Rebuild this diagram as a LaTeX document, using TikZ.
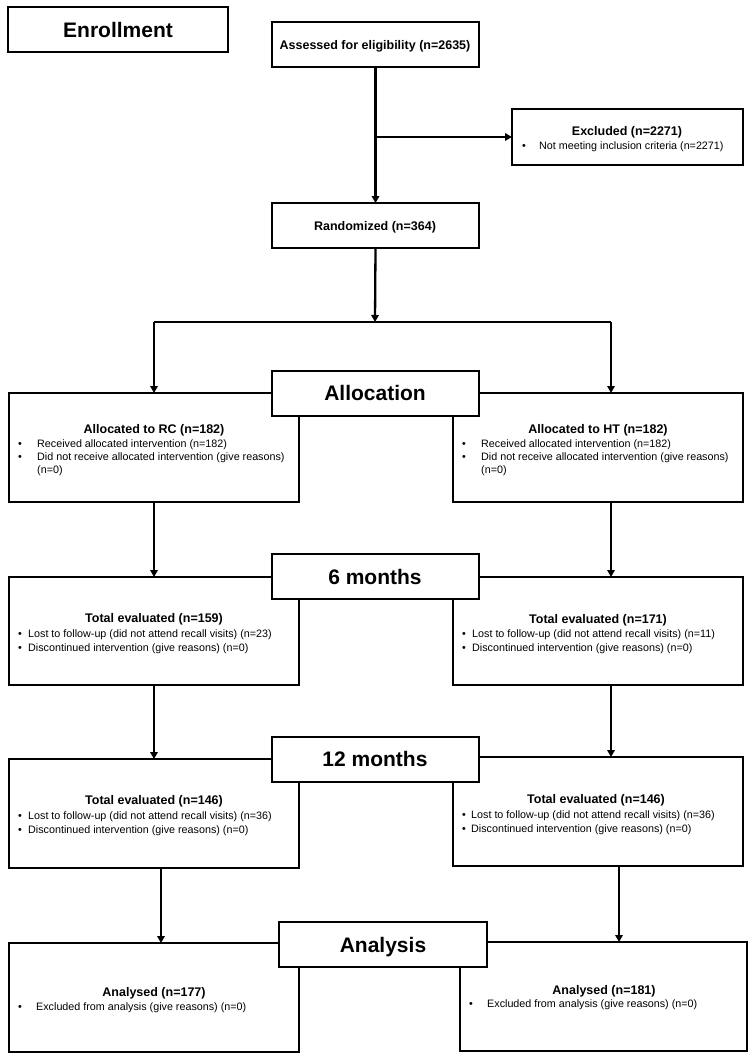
\documentclass[tikz,border=0pt]{standalone}
\usepackage{fontspec}
\setmainfont{Liberation Sans}
\usetikzlibrary{arrows.meta}
\begin{document}
\begin{tikzpicture}[x=1pt,y=-1pt,
  box/.style={draw, line width=2.3pt, anchor=north west, inner sep=0pt, outer sep=0pt, fill=white},
  head/.style={font=\fontsize{21}{25}\selectfont\bfseries, anchor=base, inner sep=0pt},
  ttl/.style={font=\fontsize{12.5}{15}\selectfont\bfseries, anchor=base, inner sep=0pt},
  txt/.style={font=\fontsize{10.75}{13}\selectfont, anchor=base west, inner sep=0pt},
  conn/.style={line width=2.3pt},
  arr/.style={line width=2.3pt, -{Triangle[length=7pt,width=7.5pt]}}]
\useasboundingbox[fill=white] (0,0) rectangle (750,1054);

% side boxes
\node[box, minimum width=220pt, minimum height=45pt] (enroll) at (8,7) {};
\node[box, minimum width=207pt, minimum height=45pt] (assess) at (272,22) {};
\node[box, minimum width=231pt, minimum height=56pt] (excl) at (512,109) {};
\node[box, minimum width=207pt, minimum height=45pt] (rand) at (272,203) {};
\node[box, minimum width=290pt, minimum height=109pt] (allocRC) at (9,393) {};
\node[box, minimum width=290pt, minimum height=109pt] (allocHT) at (453,393) {};
\node[box, minimum width=290pt, minimum height=108pt] (sixRC) at (9,577) {};
\node[box, minimum width=290pt, minimum height=108pt] (sixHT) at (453,577) {};
\node[box, minimum width=290pt, minimum height=109pt] (twRC) at (9,759) {};
\node[box, minimum width=290pt, minimum height=109pt] (twHT) at (453,757) {};
\node[box, minimum width=290pt, minimum height=109pt] (anRC) at (9,943) {};
\node[box, minimum width=287pt, minimum height=109pt] (anHT) at (460,942) {};
% stage boxes on top
\node[box, minimum width=207pt, minimum height=45pt] (alloc) at (272,371) {};
\node[box, minimum width=207pt, minimum height=45pt] (six) at (272,554) {};
\node[box, minimum width=207pt, minimum height=45pt] (tw) at (272,737) {};
\node[box, minimum width=208pt, minimum height=45pt] (an) at (279,922) {};

% connectors
\draw[arr] (assess.south) -- (rand.north);
\draw[arr] (assess.south |- excl.west) -- (excl.west);
\coordinate (split) at (375,322);
\coordinate (sL) at (154,322);
\coordinate (sR) at (611,322);
\draw[arr] (rand.south) -- (split);
\draw[conn] (sL) -- (sR);
\draw[arr] (sL) -- (sL |- allocRC.north);
\draw[arr] (sR) -- (sR |- allocHT.north);
\draw[arr] (allocRC.south) -- (sixRC.north);
\draw[arr] ([xshift=13pt]allocHT.south) -- ([xshift=13pt]sixHT.north);
\draw[arr] (sixRC.south) -- (sixRC.south |- twRC.north);
\draw[arr] ([xshift=13pt]sixHT.south) -- ([xshift=13pt]sixHT.south |- twHT.north);
\draw[arr] ([xshift=7pt]twRC.south) -- ([xshift=7pt]twRC.south |- anRC.north);
\draw[arr] ([xshift=21pt]twHT.south) -- ([xshift=21pt]twHT.south |- anHT.north);

% texts
\node[head] (tEnroll) at (118,37.5) {Enrollment};
\node[ttl] (tAssess) at (375,49.5) {Assessed for eligibility (n=2635)};
\node[ttl] (tExcl) at (627,135.5) {Excluded (n=2271)};
\node[txt] (bExcl) at (522,149.5) {\textbullet};
\node[txt] (lExcl) at (539,149.5) {Not meeting inclusion criteria (n=2271)};
\node[ttl] (tRand) at (375,230.5) {Randomized (n=364)};

\node[head] (tAlloc) at (375,400.5) {Allocation};
\node[ttl] (tARC) at (154,433) {Allocated to RC (n=182)};
\node[txt] (bARC1) at (18,447) {\textbullet};
\node[txt] (lARC1) at (37,447) {Received allocated intervention (n=182)};
\node[txt] (bARC2) at (18,460) {\textbullet};
\node[txt] (lARC2) at (37,460) {Did not receive allocated intervention (give reasons)};
\node[txt] (lARC3) at (37,473) {(n=0)};
\node[ttl] (tAHT) at (598,433) {Allocated to HT (n=182)};
\node[txt] (bAHT1) at (462,447) {\textbullet};
\node[txt] (lAHT1) at (481,447) {Received allocated intervention (n=182)};
\node[txt] (bAHT2) at (462,460) {\textbullet};
\node[txt] (lAHT2) at (481,460) {Did not receive allocated intervention (give reasons)};
\node[txt] (lAHT3) at (481,473) {(n=0)};

\node[head] (tSix) at (375,584.5) {6 months};
\node[ttl] (tSRC) at (154,622.5) {Total evaluated (n=159)};
\node[txt] (bSRC1) at (18,637) {\textbullet};
\node[txt] (lSRC1) at (28,637) {Lost to follow-up (did not attend recall visits) (n=23)};
\node[txt] (bSRC2) at (18,651) {\textbullet};
\node[txt] (lSRC2) at (28,651) {Discontinued intervention (give reasons) (n=0)};
\node[ttl] (tSHT) at (598,623.5) {Total evaluated (n=171)};
\node[txt] (bSHT1) at (462,637) {\textbullet};
\node[txt] (lSHT1) at (472,637) {Lost to follow-up (did not attend recall visits) (n=11)};
\node[txt] (bSHT2) at (462,651) {\textbullet};
\node[txt] (lSHT2) at (472,651) {Discontinued intervention (give reasons) (n=0)};

\node[head] (tTw) at (375,766.5) {12 months};
\node[ttl] (tTRC) at (154,804.5) {Total evaluated (n=146)};
\node[txt] (bTRC1) at (18,819) {\textbullet};
\node[txt] (lTRC1) at (28,819) {Lost to follow-up (did not attend recall visits) (n=36)};
\node[txt] (bTRC2) at (18,833) {\textbullet};
\node[txt] (lTRC2) at (28,833) {Discontinued intervention (give reasons) (n=0)};
\node[ttl] (tTHT) at (596,803.5) {Total evaluated (n=146)};
\node[txt] (bTHT1) at (462,818) {\textbullet};
\node[txt] (lTHT1) at (471,818) {Lost to follow-up (did not attend recall visits) (n=36)};
\node[txt] (bTHT2) at (462,832) {\textbullet};
\node[txt] (lTHT2) at (471,832) {Discontinued intervention (give reasons) (n=0)};

\node[head] (tAn) at (383,952.5) {Analysis};
\node[ttl] (tNRC) at (154,996.5) {Analysed (n=177)};
\node[txt] (bNRC) at (18,1010) {\textbullet};
\node[txt] (lNRC) at (36,1010) {Excluded from analysis (give reasons) (n=0)};
\node[ttl] (tNHT) at (604,994.5) {Analysed (n=181)};
\node[txt] (bNHT) at (469,1007) {\textbullet};
\node[txt] (lNHT) at (487,1007) {Excluded from analysis (give reasons) (n=0)};
\end{tikzpicture}
\end{document}
